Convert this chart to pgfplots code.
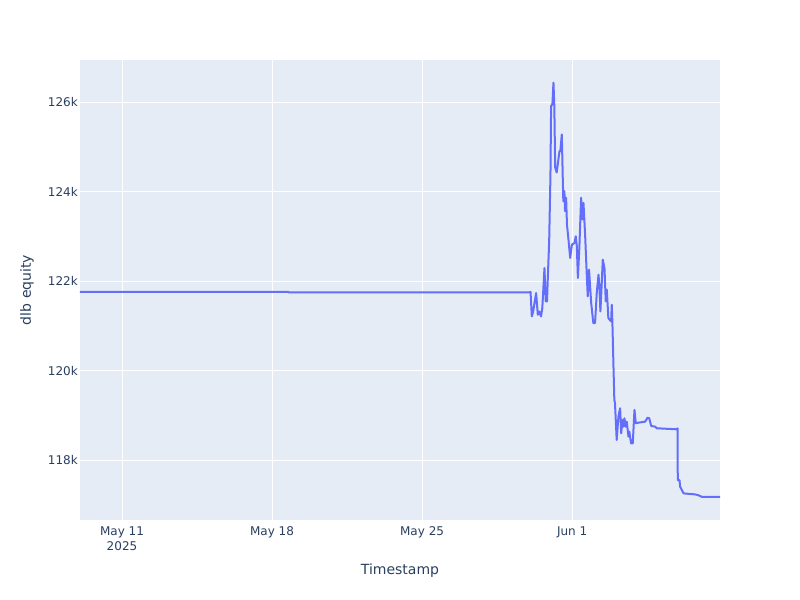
\documentclass[border=0pt]{standalone}
\usepackage{pgfplots}
\pgfplotsset{compat=1.18}
\usepackage{fontspec}
\setmainfont{DejaVu Sans}
\definecolor{plotbg}{HTML}{E5ECF6}
\definecolor{txt}{HTML}{2A3F5F}
\definecolor{line1}{HTML}{636EFA}
\begin{document}
\begin{tikzpicture}
\path[use as bounding box] (-60pt,-60pt) rectangle (540pt,390pt);
\begin{axis}[
  at={(0,0)}, anchor=south west,
  scale only axis, width=480pt, height=345pt,
  xmin=9.04, xmax=38.9,
  ymin=116660, ymax=126940,
  axis background/.style={fill=plotbg},
  axis line style={draw=none},
  major tick length=0pt,
  grid=major,
  major grid style={white, line width=0.75pt},
  xtick={11,18,25,32},
  xticklabels={May 11\\2025, May 18, May 25, Jun 1},
  ytick={118000,120000,122000,124000,126000},
  yticklabels={118k,120k,122k,124k,126k},
  scaled y ticks=false,
  tick label style={font=\fontsize{9}{11.25}\selectfont, text=txt},
  x tick label style={anchor=north, inner sep=0pt, yshift=-5pt, align=center},
  y tick label style={anchor=east, inner sep=0pt, xshift=-1.5pt},
  xlabel={Timestamp},
  ylabel={dlb equity},
  label style={font=\fontsize{10.5}{12}\selectfont, text=txt},
  xlabel style={at={(axis description cs:0.5,-0.1109)}, anchor=center},
  ylabel style={at={(axis description cs:-0.0828,0.5)}, anchor=center},
  clip=true,
]
\addplot[line1, line width=1.5pt, line join=round, mark=none] coordinates {
(9.04,121758) (18.75,121758) (18.79,121746) (30.04,121746)
(30.06,121760) (30.12,121209) (30.18,121314) (30.32,121733) (30.40,121247)
(30.47,121320) (30.55,121209) (30.61,121397) (30.71,122292) (30.77,121544)
(30.83,121544) (30.86,121992) (30.93,122888) (30.99,124381) (31.02,125910)
(31.08,125949) (31.13,126434) (31.17,125910) (31.21,124538) (31.28,124426)
(31.33,124605) (31.41,124903) (31.45,124903) (31.52,125277) (31.56,124381)
(31.59,123783) (31.64,124007) (31.67,123560) (31.72,123860) (31.76,123262)
(31.83,122926) (31.91,122516) (31.99,122814) (32.11,122852) (32.17,123000)
(32.22,122776) (32.27,122068) (32.34,122776) (32.42,123860) (32.48,123374)
(32.53,123748) (32.61,123000) (32.68,122180) (32.73,121656) (32.79,122254)
(32.89,121509) (32.99,121061) (33.07,121061) (33.15,121733) (33.23,122142)
(33.27,121918) (33.32,121320) (33.38,121918) (33.43,122478) (33.51,122292)
(33.57,121544) (33.62,121806) (33.69,121173) (33.82,121097) (33.85,121470)
(33.88,121067) (33.93,120089) (33.97,119343) (34.00,119276) (34.08,118448)
(34.16,118970) (34.24,119158) (34.29,118598) (34.35,118896) (34.39,118746)
(34.44,118934) (34.50,118746) (34.55,118858) (34.63,118522) (34.67,118634)
(34.75,118374) (34.83,118374) (34.91,119120) (34.97,118822) (35.09,118835)
(35.41,118858) (35.52,118947) (35.60,118934) (35.69,118761) (35.88,118746)
(35.95,118710) (36.89,118687) (36.92,118710) (36.93,117552) (37.01,117552)
(37.04,117402) (37.20,117255) (37.74,117232) (37.88,117216) (38.05,117178)
(38.90,117178)
};
\end{axis}
\end{tikzpicture}
\end{document}
